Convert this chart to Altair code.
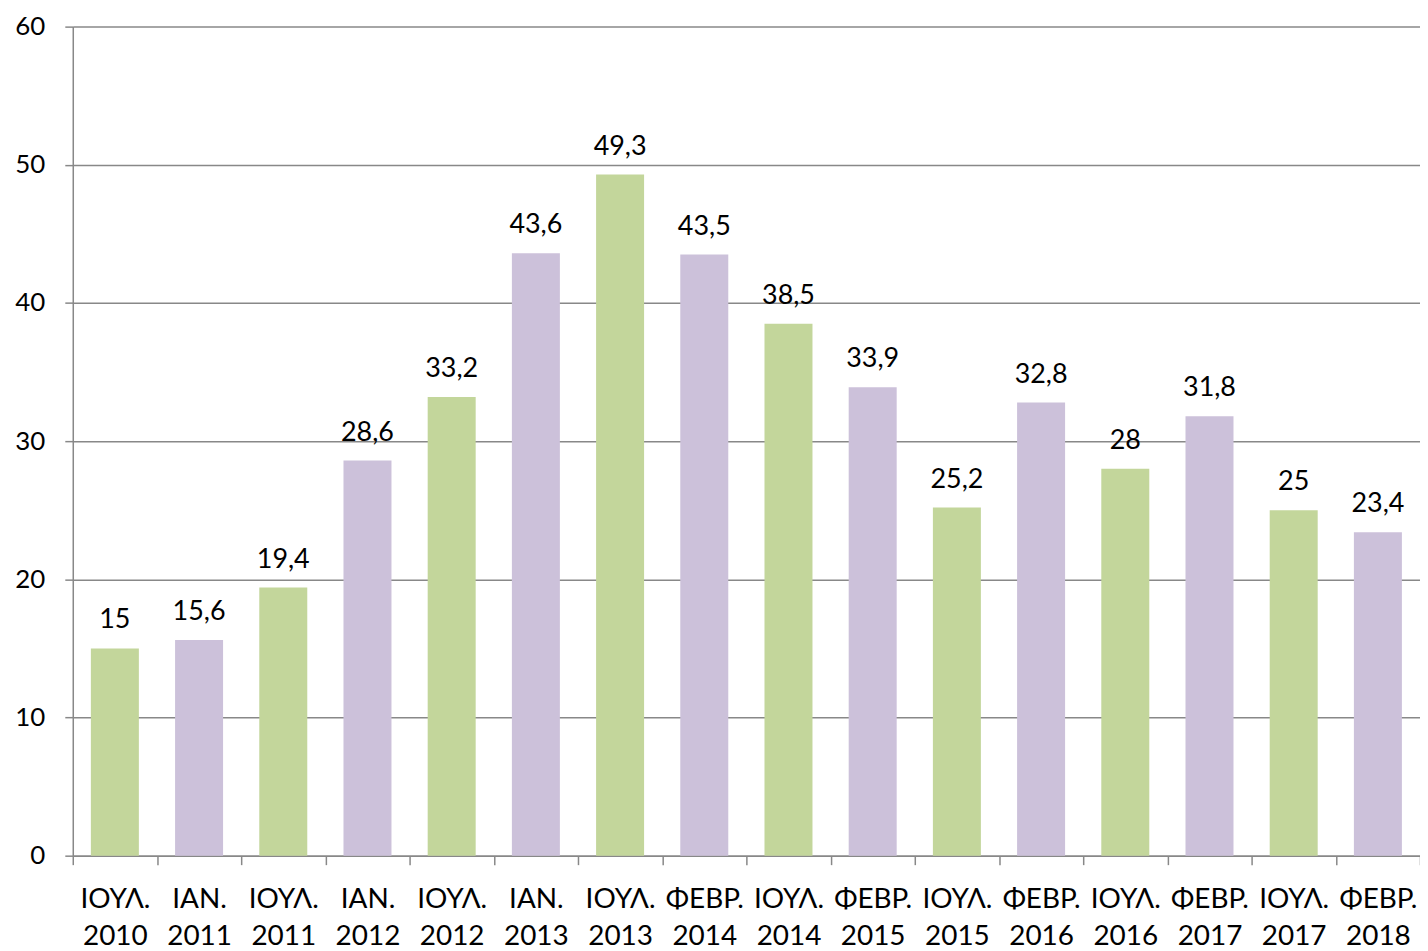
import altair as alt
import pandas as pd

months = ["ΙΟΥΛ.", "ΙΑΝ.", "ΙΟΥΛ.", "ΙΑΝ.", "ΙΟΥΛ.", "ΙΑΝ.", "ΙΟΥΛ.", "ΦΕΒΡ.",
          "ΙΟΥΛ.", "ΦΕΒΡ.", "ΙΟΥΛ.", "ΦΕΒΡ.", "ΙΟΥΛ.", "ΦΕΒΡ.", "ΙΟΥΛ.", "ΦΕΒΡ."]
years = ["2010", "2011", "2011", "2012", "2012", "2013", "2013", "2014",
         "2014", "2015", "2015", "2016", "2016", "2017", "2017", "2018"]
values = [15, 15.6, 19.4, 28.6, 33.2, 43.6, 49.3, 43.5,
          38.5, 33.9, 25.2, 32.8, 28, 31.8, 25, 23.4]

df = pd.DataFrame({
    "cat": [m + "\n" + y for m, y in zip(months, years)],
    "value": values,
    "season": ["summer" if m == "ΙΟΥΛ." else "winter" for m in months],
    "label": [str(v).replace(".", ",") for v in values],
})

FONT = "Lato"
order = list(df["cat"])

x = alt.X("cat:N", sort=order, title=None,
          scale=alt.Scale(paddingInner=0, paddingOuter=0),
          axis=alt.Axis(labelExpr="split(datum.label, '\\n')", labelAngle=0,
                        labelFont=FONT, labelFontSize=28, labelColor="#000",
                        labelLineHeight=37, labelPadding=21, labelBaseline="top",
                        tickBand="extent", tickSize=9, tickColor="#888",
                        tickWidth=1.5, domainColor="#888", domainWidth=1.5,
                        grid=False))

bars = alt.Chart(df).mark_bar(width=alt.RelativeBandSize(0.57)).encode(
    x=x,
    y=alt.Y("value:Q", title=None,
            scale=alt.Scale(domain=[0, 60]),
            axis=alt.Axis(values=[0, 10, 20, 30, 40, 50, 60],
                          labelFont=FONT, labelFontSize=26, labelColor="#000",
                          labelPadding=20, tickSize=8, tickColor="#888",
                          tickWidth=1.5, domainColor="#888", domainWidth=1.5,
                          gridColor="#888", gridWidth=1.5)),
    color=alt.Color("season:N", legend=None,
                    scale=alt.Scale(domain=["summer", "winter"],
                                    range=["#C3D69B", "#CCC1DA"])),
)

text = alt.Chart(df).mark_text(font=FONT, fontSize=27, color="#000",
                               baseline="alphabetic", dy=-20).encode(
    x=alt.X("cat:N", sort=order),
    y="value:Q",
    text="label:N",
)

chart = (bars + text).properties(
    width=1352, height=832,
    autosize=alt.AutoSizeParams(type="none"),
    padding={"left": 65, "top": 17, "right": 0, "bottom": 100},
).configure_view(stroke=None)

chart.save("out.html", embed_options={"renderer": "svg", "actions": False})
